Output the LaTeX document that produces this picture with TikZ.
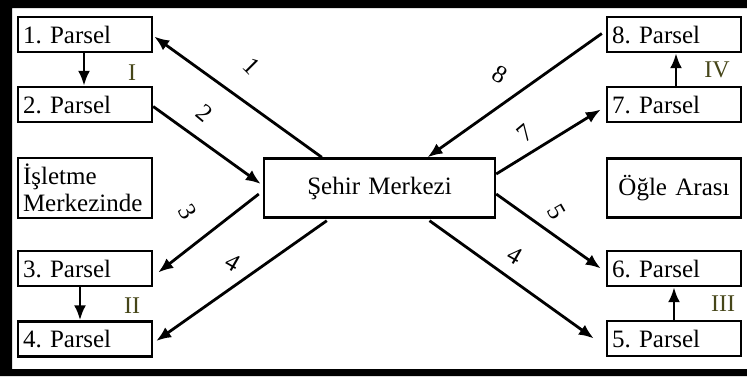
\documentclass[tikz,border=0pt]{standalone}
\usepackage{fontspec}
\setmainfont{Liberation Serif}
\usetikzlibrary{calc}
\usetikzlibrary{arrows.meta}
\usepackage{xcolor}
\definecolor{romenrenk}{RGB}{70,70,25}
\frenchspacing

\begin{document}
\begin{tikzpicture}[x=0.5pt, y=-0.5pt,
        kutu/.style={draw, rectangle, line width=1.2pt, minimum width=67pt, minimum height=17.5pt, text width=62pt, align=left, inner sep=2.5pt, font=\fontsize{12.5}{13.5}\selectfont},
        ok/.style={line width=1.4pt, -{Latex[length=7.5pt, width=6pt]}},
        sayi/.style={inner sep=0pt, font=\fontsize{12.5}{13.5}\selectfont},
        romen/.style={inner sep=0pt, text=romenrenk, font=\fontsize{12}{13}\selectfont}]
        \useasboundingbox (0,0) rectangle (747,376);
        % 外枠
        \fill[black, even odd rule] (0,0) rectangle (747,376) (12,8) rectangle (747,369);

        % 中央
        \node[kutu, minimum width=115.5pt, minimum height=29.5pt, text width=110pt, align=center] (Sehir) at (379.5,188) {Şehir Merkezi};

        % 左側の区画
        \node[kutu] (P1) at (85,34.5) {1. Parsel};
        \node[kutu] (P2) at (85,104.5) {2. Parsel};
        \node[kutu, minimum height=30pt] (Isletme) at (85,188) {İşletme\\Merkezinde};
        \node[kutu] (P3) at (85,268.5) {3. Parsel};
        \node[kutu] (P4) at (85,339) {4. Parsel};

        % 右側の区画
        \node[kutu] (P8) at (674,34.5) {8. Parsel};
        \node[kutu] (P7) at (674,104.5) {7. Parsel};
        \node[kutu, minimum height=29.5pt, align=center] (Ogle) at (674,188) {Öğle Arası};
        \node[kutu] (P6) at (674,268.5) {6. Parsel};
        \node[kutu] (P5) at (674,338.5) {5. Parsel};

        % 区画の間の矢印
        \draw[ok] ($(P1.south) + (-1,0)$) -- ($(P2.north) + (-1,0)$);
        \draw[ok] ($(P3.south) + (-5,0)$) -- ($(P4.north) + (-5,0)$);
        \draw[ok] ($(P7.north) + (2,0)$) -- ($(P8.south) + (2,0)$);
        \draw[ok] ($(P5.north) + (0,0)$) -- ($(P6.south) + (0,0)$);

        % 中央との矢印
        \draw[ok] ($(Sehir.north west) + (59,0)$) -- ($(P1.east) + (1,2)$);
        \draw[ok] ($(P2.east) + (0,2)$) -- ($(Sehir.west) + (-2,-4)$);
        \draw[ok] ($(Sehir.west) + (-4,6)$) -- ($(P3.east) + (5,4)$);
        \draw[ok] ($(Sehir.south west) + (64,2)$) -- ($(P4.east) + (3,2)$);
        \draw[ok] ($(P8.west) + (-4,-1)$) -- ($(Sehir.north) + (48,0)$);
        \draw[ok] ($(Sehir.east) + (0,-14)$) -- ($(P7.west) + (-5,5)$);
        \draw[ok] ($(Sehir.east) + (0,6)$) -- ($(P6.west) + (-5,0)$);
        \draw[ok] ($(Sehir.south) + (50,2)$) -- ($(P5.west) + (-12,0)$);

        % 番号
        \node[sayi, rotate=-45] (n1) at (252,66) {1};
        \node[sayi, rotate=-40] (n2) at (205,113) {2};
        \node[sayi, rotate=-60] (n3) at (188,212) {3};
        \node[sayi, rotate=-30] (n4a) at (233,262) {4};
        \node[sayi, rotate=-30] (n8) at (500,75) {8};
        \node[sayi, rotate=40] (n7) at (525,133) {7};
        \node[sayi, rotate=-60] (n5) at (557,212) {5};
        \node[sayi, rotate=-30] (n4b) at (515,255) {4};

        % グループ
        \node[romen] (g1) at (132,73) {I};
        \node[romen] (g2) at (132,306) {II};
        \node[romen] (g3) at (723,304) {III};
        \node[romen] (g4) at (717,70) {IV};
    \end{tikzpicture}
\end{document}
